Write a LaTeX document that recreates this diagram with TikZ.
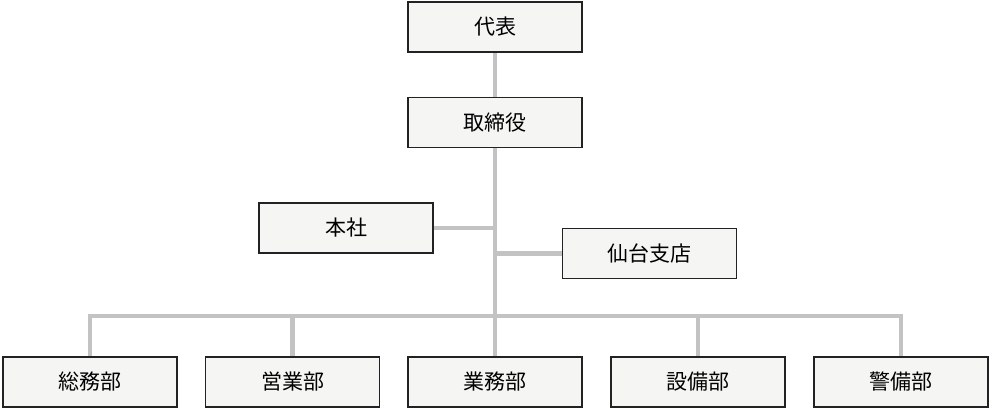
\documentclass[tikz,border=0pt]{standalone}
\usepackage{fontspec}
\setmainfont{Noto Sans CJK JP}
\usetikzlibrary{backgrounds}
\definecolor{boxfill}{HTML}{F5F5F3}
\definecolor{boxline}{HTML}{222222}
\definecolor{conn}{HTML}{C3C3C3}
\tikzset{
  orgbox/.style={draw=boxline, line width=1.8pt, fill=boxfill, minimum width=174pt, minimum height=50pt, inner sep=0pt, font=\fontsize{21}{25}\selectfont},
  connline/.style={draw=conn, line width=4.5pt}
}
\begin{document}
\begin{tikzpicture}[x=1pt,y=-1pt]
\useasboundingbox (0,0) rectangle (990,410);
\node[orgbox] (daihyo) at (495,27) {代表};
\node[orgbox] (tori) at (495,122.5) {取締役};
\node[orgbox] (honsha) at (346,228) {本社};
\node[orgbox] (sendai) at (649.5,253.5) {仙台支店};
\node[orgbox] (somu) at (90,382) {総務部};
\node[orgbox] (eigyo) at (292.5,382) {営業部};
\node[orgbox] (gyomu) at (495,382) {業務部};
\node[orgbox] (setsubi) at (698,382) {設備部};
\node[orgbox] (keibi) at (901,382) {警備部};
\coordinate (j) at (495,316);
\begin{scope}[on background layer]
\draw[connline] (daihyo.south) -- (tori.north);
\draw[connline] (tori.south) -- (gyomu.north);
\draw[connline] (honsha.east) -- (honsha.east -| j);
\draw[connline] (sendai.west) -- (sendai.west -| j);
\draw[connline] (somu.north) |- (j);
\draw[connline] (keibi.north) |- (j);
\draw[connline] (eigyo.north) -- (eigyo.north |- j);
\draw[connline] (setsubi.north) -- (setsubi.north |- j);
\end{scope}
\end{tikzpicture}
\end{document}
